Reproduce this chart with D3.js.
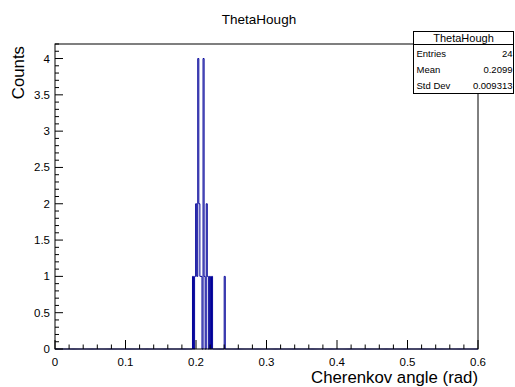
<!DOCTYPE html>
<html><head><meta charset="utf-8">
<script src="https://cdn.jsdelivr.net/npm/d3@7"></script>
<style>body{margin:0;background:#fff}svg{display:block}</style>
</head><body>
<script>
// Histogram definition (ROOT TH1 "ThetaHough")
const histLow = 0, histHigh = 0.6, nBins = 400;
// filled bins: lower edge of bin and its content
const binStart = [0.1950, 0.1980, 0.1995, 0.2010, 0.2025, 0.2040, 0.2055, 0.2070, 0.2100, 0.2115, 0.2145, 0.2160, 0.2190, 0.2220, 0.2400];
const binCount = [1,      1,      2,      1,      4,      2,      1,      1,      4,      1,      2,      1,      1,      1,      1];
const xTicks = [0, 0.1, 0.2, 0.3, 0.4, 0.5, 0.6];
const yTicks = [0, 0.5, 1, 1.5, 2, 2.5, 3, 3.5, 4];
const statsLabels = ["Entries", "Mean", "Std Dev"];
const statsValues = ["24", "0.2099", "0.009313"];
const title = "ThetaHough";
const xTitle = "Cherenkov angle (rad)";
const yTitle = "Counts";

const W = 515, H = 387;
const fL = 55, fR = 478, fT = 44, fB = 349;
const FONT = "'Liberation Sans', Arial, Helvetica, sans-serif";
const lineColor = "#000099";

const svg = d3.select("body").append("svg").attr("width", W).attr("height", H)
  .style("font-family", FONT);

const x = d3.scaleLinear().domain([histLow, histHigh]).range([fL, fR]);
const yMax = 4 * 1.05;
const y = d3.scaleLinear().domain([0, yMax]).range([fB, fT]);

// full bin contents
const bw = (histHigh - histLow) / nBins;
const contents = new Array(nBins).fill(0);
binStart.forEach((s, i) => { contents[Math.round((s - histLow) / bw)] = binCount[i]; });

// staircase outline points
const pts = [];
for (let i = 0; i < nBins; i++) {
  pts.push([histLow + i * bw, contents[i]]);
  pts.push([histLow + (i + 1) * bw, contents[i]]);
}
const line = d3.line().x(d => x(d[0])).y(d => y(d[1]));

svg.append("path").attr("d", line(pts)).attr("fill", "none")
  .attr("stroke", lineColor).attr("stroke-width", 1);

// frame
svg.append("rect").attr("x", fL).attr("y", fT).attr("width", fR - fL).attr("height", fB - fT)
  .attr("fill", "none").attr("stroke", "#000").attr("stroke-width", 1);

// x axis ticks
const xMinor = d3.range(0, 0.6001, 0.02);
const gx = svg.append("g");
xMinor.forEach(v => {
  const major = xTicks.some(t => Math.abs(t - v) < 1e-9);
  gx.append("line").attr("x1", x(v)).attr("x2", x(v)).attr("y1", fB).attr("y2", fB - (major ? 9 : 4.5))
    .attr("stroke", "#000");
});
xTicks.forEach(v => {
  gx.append("text").attr("x", x(v)).attr("y", fB + 17).attr("text-anchor", "middle")
    .attr("font-size", 11.5).text(d3.format("")(v));
});

// y axis ticks
const yMinor = d3.range(0, 4.2001, 0.1);
const gy = svg.append("g");
yMinor.forEach(v => {
  const major = yTicks.some(t => Math.abs(t - v) < 1e-9);
  gy.append("line").attr("x1", fL).attr("x2", fL + (major ? 8 : 4)).attr("y1", y(v)).attr("y2", y(v))
    .attr("stroke", "#000");
});
yTicks.forEach(v => {
  gy.append("text").attr("x", fL - 5).attr("y", y(v) + 4).attr("text-anchor", "end")
    .attr("font-size", 11.5).text(d3.format("")(v));
});

// titles
svg.append("text").attr("x", 259).attr("y", 24).attr("text-anchor", "middle")
  .attr("font-size", 13.5).text(title);
svg.append("text").attr("x", fR).attr("y", 383).attr("text-anchor", "end")
  .attr("font-size", 16.8).text(xTitle);
svg.append("text").attr("transform", `translate(24,${fT + 2}) rotate(-90)`).attr("text-anchor", "end")
  .attr("font-size", 16.8).text(yTitle);

// stats box
const sb = {x: 413.5, y: 31.5, w: 100, h: 62};
const g = svg.append("g");
g.append("rect").attr("x", sb.x).attr("y", sb.y).attr("width", sb.w).attr("height", sb.h)
  .attr("fill", "#fff").attr("stroke", "#000");
g.append("line").attr("x1", sb.x).attr("x2", sb.x + sb.w).attr("y1", sb.y + 13).attr("y2", sb.y + 13).attr("stroke", "#000");
g.append("text").attr("x", sb.x + sb.w / 2).attr("y", sb.y + 10.5).attr("text-anchor", "middle")
  .attr("font-size", 11).text(title);
statsLabels.forEach((l, i) => {
  const yy = sb.y + 13 + 16 * i + 12;
  g.append("text").attr("x", sb.x + 3).attr("y", yy).attr("font-size", 9.5).text(l);
  g.append("text").attr("x", sb.x + sb.w - 1).attr("y", yy).attr("text-anchor", "end")
    .attr("font-size", 9.5).text(statsValues[i]);
});
</script>
</body></html>
